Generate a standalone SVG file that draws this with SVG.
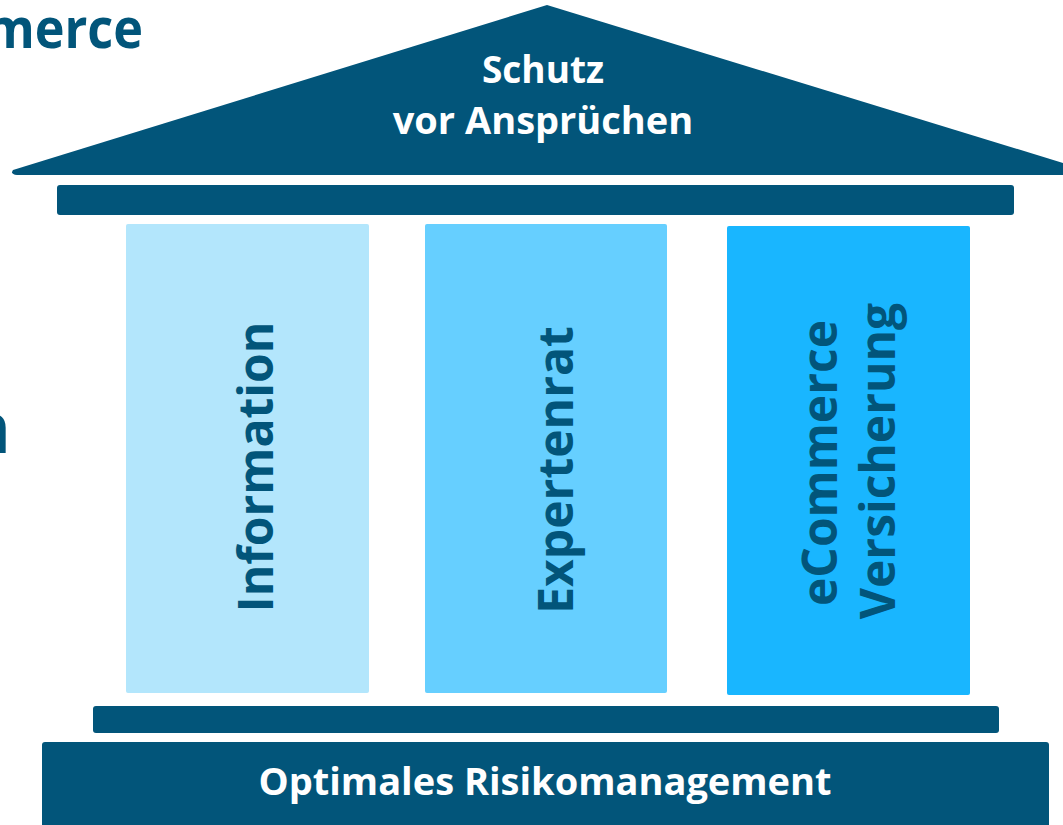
<svg xmlns="http://www.w3.org/2000/svg" width="1063" height="825" viewBox="0 0 1063 825">
  <style>
    .dark { fill: #02557A; }
    .wt { fill: #FFFFFF; font-family: "Open Sans", "Noto Sans", "Liberation Sans", sans-serif; font-weight: bold; }
    .dt { fill: #02557A; font-family: "Open Sans", "Noto Sans", "Liberation Sans", sans-serif; font-weight: bold; }
  </style>
  <rect width="1063" height="825" fill="#FFFFFF"/>
  <g id="background-text">
    <text class="dt" x="143" y="48" font-size="56" text-anchor="end" transform="translate(143 0) scale(0.9 1) translate(-143 0)">eCommerce</text>
    <text class="dt" x="11" y="453" font-size="72" text-anchor="end">n</text>
  </g>
  <g id="roof">
    <path class="dark" d="M547,5 L1063,163 L1063,175 L17,175 Q10,174 13,170 Z"/>
    <text class="wt" x="543" y="83" font-size="37" text-anchor="middle">Schutz</text>
    <text class="wt" x="543" y="134" font-size="38" text-anchor="middle">vor Ansprüchen</text>
  </g>
  <g id="top-beam">
    <rect class="dark" x="57" y="185" width="957" height="30" rx="3"/>
  </g>
  <g id="column-information">
    <rect x="126" y="224" width="243" height="469" rx="2" fill="#B3E6FC"/>
    <text class="dt" font-size="48" text-anchor="middle" transform="translate(273 467) rotate(-90)">Information</text>
  </g>
  <g id="column-expertenrat">
    <rect x="425" y="224" width="242" height="469" rx="2" fill="#66CFFF"/>
    <text class="dt" font-size="48" text-anchor="middle" transform="translate(573 470) rotate(-90)">Expertenrat</text>
  </g>
  <g id="column-versicherung">
    <rect x="727" y="226" width="243" height="469" rx="2" fill="#19B6FF"/>
    <text class="dt" font-size="48" text-anchor="middle" transform="translate(837 463) rotate(-90)">eCommerce</text>
    <text class="dt" font-size="48" text-anchor="middle" transform="translate(895 461) rotate(-90)">Versicherung</text>
  </g>
  <g id="lower-beam">
    <rect class="dark" x="93" y="706" width="906" height="27" rx="3"/>
  </g>
  <g id="base">
    <rect class="dark" x="42" y="742" width="1007" height="95" rx="3"/>
    <text class="wt" x="545" y="795" font-size="38" text-anchor="middle">Optimales Risikomanagement</text>
  </g>
  <g id="connectors"/>
</svg>
